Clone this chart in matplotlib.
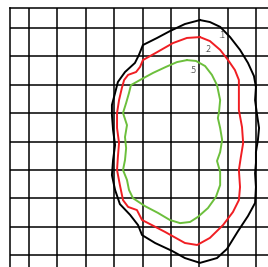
from matplotlib import pyplot as plt

# contour levels, points (grid units, y counted downwards)
levels = ['.1', '.2', '.5']
colors = ['black', '#f01e23', '#6cbf3c']

x1 = [6.02, 6.37, 6.73, 7.08, 7.43, 7.71, 7.92, 7.99, 7.96, 8.03, 8.10, 8.06, 7.99, 7.99, 7.96,
      7.99, 7.96, 7.71, 7.36, 6.97, 6.62, 6.02, 5.49, 5.04, 4.44, 3.98, 3.84, 3.56, 3.20, 3.03,
      2.92, 2.96, 3.03, 2.96, 2.92, 2.92, 3.03, 3.13, 3.38, 3.73, 3.87, 4.01, 4.51, 4.96, 5.49]
y1 = [-0.28, -0.21, -0.04, 0.32, 0.77, 1.23, 1.69, 2.08, 2.54, 3.06, 3.52, 3.94, 4.37, 4.75, 5.11,
      5.60, 6.16, 6.62, 7.15, 7.78, 8.10, 8.27, 8.10, 7.85, 7.57, 7.29, 6.94, 6.58, 6.20, 5.70,
      5.18, 4.65, 4.12, 3.59, 3.06, 2.71, 2.29, 1.90, 1.55, 1.23, 0.95, 0.60, 0.35, 0.11, -0.14]

x2 = [6.02, 6.37, 6.73, 7.01, 7.25, 7.39, 7.39, 7.39, 7.50, 7.54, 7.46, 7.39, 7.43, 7.39, 7.18,
      6.83, 6.37, 5.92, 5.49, 4.79, 4.33, 3.98, 3.80, 3.49, 3.31, 3.20, 3.10, 3.13, 3.17, 3.10,
      3.10, 3.17, 3.27, 3.35, 3.49, 3.77, 3.91, 4.01, 4.51, 5.07, 5.56]
y2 = [0.32, 0.46, 0.77, 1.13, 1.48, 1.83, 2.29, 2.89, 3.49, 4.05, 4.54, 5.00, 5.60, 6.06, 6.48,
      6.94, 7.39, 7.64, 7.57, 7.18, 6.94, 6.76, 6.41, 6.30, 6.06, 5.53, 5.00, 4.54, 4.05, 3.52,
      2.99, 2.54, 2.11, 1.83, 1.65, 1.55, 1.37, 1.13, 0.85, 0.53, 0.35]

x5 = [5.56, 5.88, 6.20, 6.44, 6.62, 6.73, 6.69, 6.65, 6.73, 6.80, 6.73, 6.62, 6.73, 6.73, 6.58,
      6.30, 5.95, 5.67, 5.32, 4.96, 4.54, 4.08, 3.66, 3.52, 3.45, 3.31, 3.38, 3.42, 3.38, 3.45,
      3.31, 3.42, 3.52, 3.59, 3.91, 4.37, 4.82, 5.21]
y5 = [1.13, 1.16, 1.34, 1.65, 2.01, 2.54, 2.96, 3.17, 3.52, 3.94, 4.37, 4.68, 5.07, 5.53, 5.95,
      6.34, 6.65, 6.83, 6.87, 6.76, 6.51, 6.27, 5.99, 5.70, 5.35, 5.00, 4.65, 4.23, 3.84, 3.42,
      2.99, 2.64, 2.29, 2.01, 1.83, 1.58, 1.37, 1.20]

label_x = [6.80, 6.30, 5.77]
label_y = [0.25, 0.77, 1.48]

fig = plt.figure(figsize=(2.68, 2.67), dpi=100)
ax = fig.add_axes([0.0373, 0.0, 0.9627, 0.970])

for xs, ys, c in zip([x1, x2, x5], [y1, y2, y5], colors):
    ax.plot(xs + xs[:1], ys + ys[:1], color=c, lw=1.4)

for t, lx, ly in zip(levels, label_x, label_y):
    ax.text(lx, ly, t, fontsize=5.5, color='#555555', ha='center', va='center')

ax.set_xlim(-0.669, 8.415)
ax.set_ylim(8.415, -0.704)
ax.set_xticks(range(9))
ax.set_yticks(range(9))
ax.grid(True, color='black', lw=1.1)
ax.tick_params(length=0, labelbottom=False, labelleft=False)
ax.spines['right'].set_visible(False)
ax.spines['bottom'].set_visible(False)
ax.spines['left'].set_linewidth(1.1)
ax.spines['top'].set_linewidth(1.1)

plt.savefig('out.png', dpi=100)
